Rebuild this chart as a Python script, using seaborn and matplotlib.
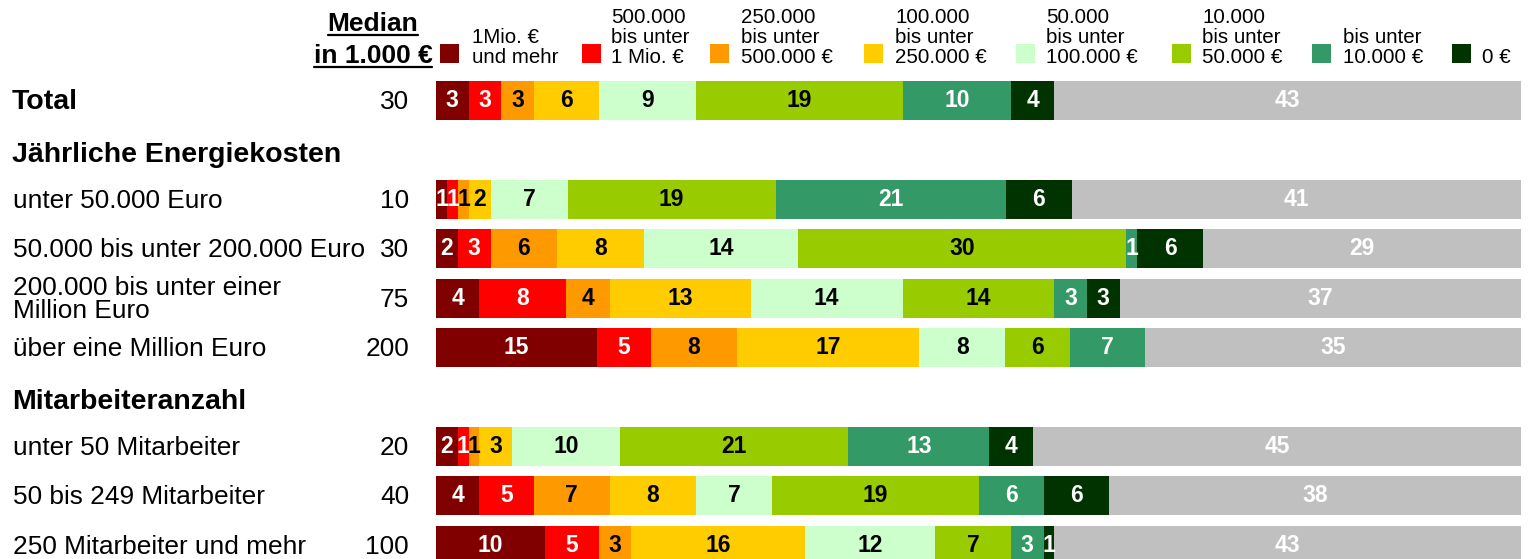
import numpy as np
import pandas as pd
import matplotlib
matplotlib.use("Agg")
import matplotlib.pyplot as plt
import matplotlib.transforms as mtransforms
from matplotlib.lines import Line2D
from matplotlib.patches import Rectangle
import seaborn as sns

sns.set_style("white")
plt.rcParams['font.family'] = ['Liberation Sans', 'DejaVu Sans']
plt.rcParams['text.color'] = 'black'

# %% data
rows = ["Total", "Jährliche Energiekosten", "unter 50.000 Euro",
        "50.000 bis unter 200.000 Euro", "200.000 bis unter einer\nMillion Euro",
        "über eine Million Euro", "Mitarbeiteranzahl", "unter 50 Mitarbeiter",
        "50 bis 249 Mitarbeiter", "250 Mitarbeiter und mehr"]
group_headers = ["Jährliche Energiekosten", "Mitarbeiteranzahl"]
data_rows = [r for r in rows if r not in group_headers]
median = [30, 10, 30, 75, 200, 20, 40, 100]

mio_und_mehr = [3, 1, 2, 4, 15, 2, 4, 10]
k500_bis_1mio = [3, 1, 3, 8, 5, 1, 5, 5]
k250_bis_500 = [3, 1, 6, 4, 8, 1, 7, 3]
k100_bis_250 = [6, 2, 8, 13, 17, 3, 8, 16]
k50_bis_100 = [9, 7, 14, 14, 8, 10, 7, 12]
k10_bis_50 = [19, 19, 30, 14, 6, 21, 19, 7]
bis_10k = [10, 21, 1, 3, 7, 13, 6, 3]
null_euro = [4, 6, 6, 3, 0, 4, 6, 1]
keine_angabe = [43, 41, 29, 37, 35, 45, 38, 43]

series = [mio_und_mehr, k500_bis_1mio, k250_bis_500, k100_bis_250, k50_bis_100,
          k10_bis_50, bis_10k, null_euro, keine_angabe]
legend_labels = [["1Mio. €", "und mehr"],
                 ["500.000", "bis unter", "1 Mio. €"],
                 ["250.000", "bis unter", "500.000 €"],
                 ["100.000", "bis unter", "250.000 €"],
                 ["50.000", "bis unter", "100.000 €"],
                 ["10.000", "bis unter", "50.000 €"],
                 ["bis unter", "10.000 €"],
                 ["0 €"]]
colors = ["#800000", "#FF0000", "#FF9900", "#FFCC00", "#CCFFCC",
          "#99CC00", "#339966", "#003300", "#C0C0C0"]
text_colors = ["white", "white", "black", "black", "black",
               "black", "white", "white", "white"]

# %% layout helpers (pixel based)
W, H = 1528, 559
fig = plt.figure(figsize=(W / 100, H / 100), dpi=100)
fx = lambda px: px / W
fy = lambda py: 1 - py / H

x0, x1 = 436, 1521
row0, pitch = 100.5, 49.4
ax = fig.add_axes([fx(x0), 0, (x1 - x0) / W, 1])

vals = np.array(series, dtype=float)          # segments x rows
shares = vals / vals.sum(axis=0) * 100
cum = np.cumsum(shares, axis=0)

# overlay cumulative bars, widest first
for k in range(len(series) - 1, -1, -1):
    df = pd.DataFrame({"row": data_rows, "cum": cum[k]})
    sns.barplot(data=df, x="cum", y="row", order=rows, orient="h", color=colors[k],
                saturation=1, width=0.79, errorbar=None, linewidth=0, ax=ax)

ax.set_xlim(0, 100)
ax.set_ylim((H - row0) / pitch, -row0 / pitch)
ax.axis("off")

# segment labels
for k in range(len(series)):
    for j, r in enumerate(data_rows):
        if vals[k, j] == 0:
            continue
        yi = rows.index(r)
        xc = cum[k, j] - shares[k, j] / 2
        ax.text(xc, yi, f"{int(vals[k, j])}", ha="center", va="center",
                color=text_colors[k], fontsize=16.5, fontweight="bold")

# left labels and median column
trans = mtransforms.blended_transform_factory(fig.transFigure, ax.transData)
for i, r in enumerate(rows):
    if r in group_headers:
        ax.text(fx(12), i + 0.1, r, transform=trans, ha="left", va="center",
                fontsize=20.5, fontweight="bold")
    elif r == "Total":
        ax.text(fx(12), i + 0.03, r, transform=trans, ha="left", va="center",
                fontsize=20.5, fontweight="bold")
    else:
        ax.text(fx(13), i + 0.03, r, transform=trans, ha="left", va="center",
                fontsize=18.9, linespacing=0.95)
for r, m in zip(data_rows, median):
    ax.text(fx(409), rows.index(r) + 0.03, str(m), transform=trans, ha="right",
            va="center", fontsize=18.9)

# median header, underlined
t1 = fig.text(fx(373), fy(31), "Median", ha="center", va="baseline",
              fontsize=19, fontweight="bold")
t2 = fig.text(fx(373), fy(63), "in 1.000 €", ha="center", va="baseline",
              fontsize=19, fontweight="bold")
fig.canvas.draw()
for t, uy in [(t1, 35), (t2, 67)]:
    bb = t.get_window_extent()
    fig.add_artist(Line2D([bb.x0 / W, bb.x1 / W], [fy(uy), fy(uy)],
                          transform=fig.transFigure, color="black", lw=1.6))

# legend
sq_x = [440, 582, 710, 864, 1016, 1172, 1312, 1452]
txt_x = [472, 611, 741, 895, 1046, 1202, 1343, 1482]
sq = 19
for k, lines in enumerate(legend_labels):
    fig.add_artist(Rectangle((fx(sq_x[k]), fy(63)), sq / W, sq / H,
                             transform=fig.transFigure, color=colors[k], lw=0))
    for n, line in enumerate(reversed(lines)):
        fig.text(fx(txt_x[k]), fy(63 - 20 * n), line, ha="left", va="baseline",
                 fontsize=14.8)

fig.savefig("out.png", dpi=100)
